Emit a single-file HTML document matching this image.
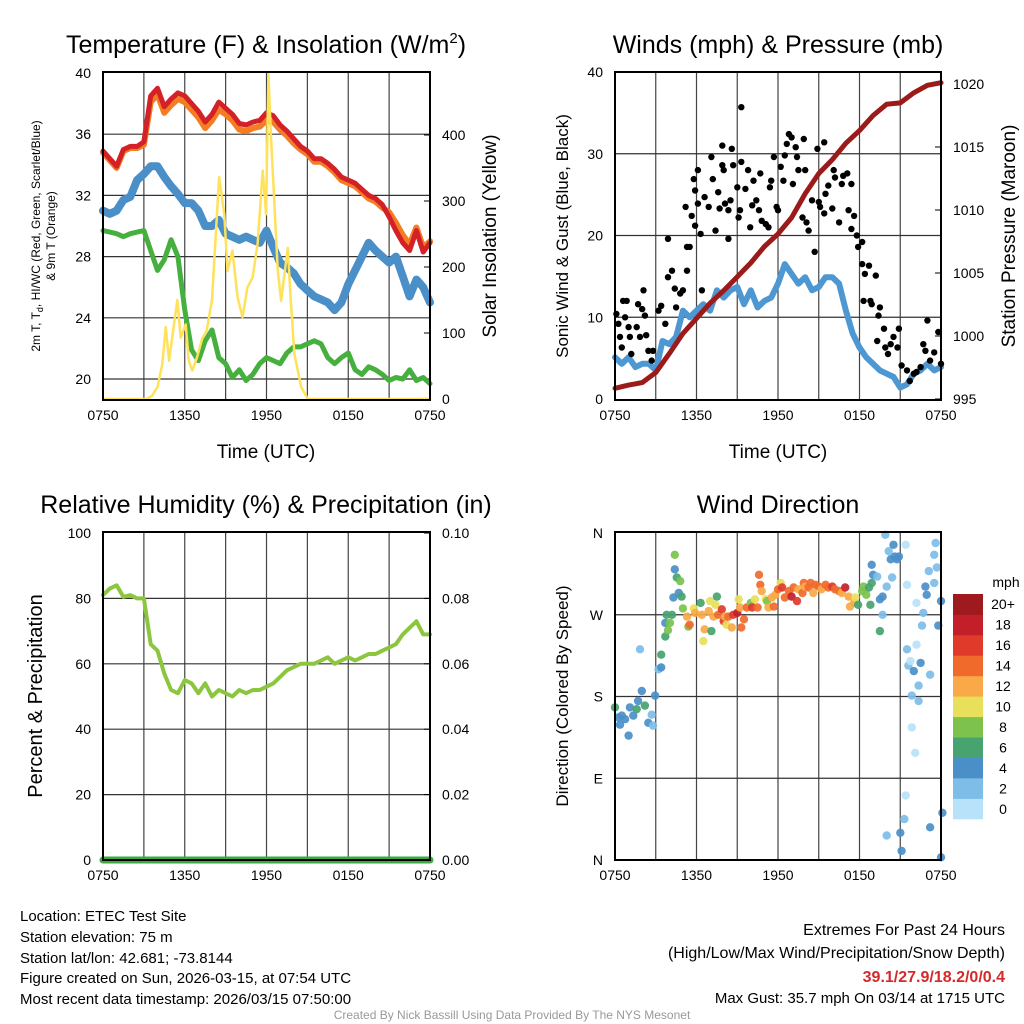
<!DOCTYPE html>
<html><head><meta charset="utf-8">
<style>
html,body{margin:0;padding:0;background:#fff;}
svg{display:block;font-family:"Liberation Sans",Arial,sans-serif;}
</style></head>
<body>
<svg id="chart" width="1024" height="1024" viewBox="0 0 1024 1024" xmlns="http://www.w3.org/2000/svg">
<rect x="0" y="0" width="1024" height="1024" fill="#fff"/>
<g id="layer"></g>
<g font-size="15" fill="#000">
<text x="20" y="921">Location: ETEC Test Site</text>
<text x="20" y="942">Station elevation: 75 m</text>
<text x="20" y="963">Station lat/lon: 42.681; -73.8144</text>
<text x="20" y="983">Figure created on Sun, 2026-03-15, at 07:54 UTC</text>
<text x="20" y="1004">Most recent data timestamp: 2026/03/15 07:50:00</text>
</g>
<g font-size="15" fill="#000" text-anchor="end">
<text x="1005" y="935" font-size="16">Extremes For Past 24 Hours</text>
<text x="1005" y="958" font-size="16">(High/Low/Max Wind/Precipitation/Snow Depth)</text>
<text x="1005" y="982" font-size="16" font-weight="bold" fill="#d42a2a">39.1/27.9/18.2/0/0.4</text>
<text x="1005" y="1003">Max Gust: 35.7 mph On 03/14 at 1715 UTC</text>
</g>
<text x="512" y="1019" text-anchor="middle" font-size="12" fill="#999">Created By Nick Bassill Using Data Provided By The NYS Mesonet</text>
</svg>
<script>
// ---------- data ----------
const halfHours = [0,0.5,1,1.5,2,2.5,3,3.5,4,4.5,5,5.5,6,6.5,7,7.5,8,8.5,9,9.5,10,10.5,11,11.5,12,12.5,13,13.5,14,14.5,15,15.5,16,16.5,17,17.5,18,18.5,19,19.5,20,20.5,21,21.5,22,22.5,23,23.5,24];
const hours = [0,1,2,3,4,5,6,7,8,9,10,11,12,13,14,15,16,17,18,19,20,21,22,23,24];
const xTickLabels = ["0750","1350","1950","0150","0750"];
const xTickHours = [0,6,12,18,24];

const tempRed = [34.9,34.4,33.9,35.0,35.2,35.2,35.5,38.5,39.0,37.8,38.3,38.7,38.5,38.0,37.5,36.8,37.3,38.1,37.7,37.3,36.7,36.6,36.8,36.9,37.4,37.2,36.6,36.2,35.7,35.2,34.9,34.4,34.4,34.1,33.7,33.2,33.0,32.8,32.4,32.0,31.8,31.4,30.6,29.7,28.9,28.4,29.7,28.3,28.9];
const temp9mOrange = [34.8,34.3,33.8,34.9,35.1,35.1,35.3,38.1,38.6,37.4,37.9,38.3,38.1,37.6,37.1,36.4,36.9,37.6,37.3,36.9,36.3,36.2,36.4,36.5,36.9,36.8,36.3,35.9,35.4,35.0,34.7,34.2,34.2,33.9,33.5,33.0,32.8,32.6,32.2,31.8,31.6,31.2,30.9,30.2,29.4,28.8,29.9,28.6,29.0];
const windChillBlue = [31.0,30.8,31.0,31.7,31.9,33.0,33.4,33.9,33.9,33.2,32.6,32.1,31.5,31.5,31.0,30.0,30.0,30.4,29.5,29.3,29.1,29.3,29.1,28.9,29.7,28.6,27.6,27.3,26.9,26.2,25.8,25.4,25.2,25.0,24.5,25.0,26.2,27.1,28.0,28.9,28.4,28.0,27.6,28.0,26.7,25.4,26.5,26.0,25.0];
const dewGreen = [29.7,29.6,29.5,29.3,29.5,29.6,29.7,28.4,27.1,27.8,29.1,28.0,24.5,21.9,21.2,22.5,23.2,21.4,21.0,20.1,20.6,19.9,20.3,21.0,21.4,21.2,21.0,21.7,22.1,22.1,22.3,22.5,22.3,21.4,21.0,21.4,21.7,20.6,20.3,20.8,20.6,20.3,19.9,20.1,20.0,20.6,19.9,20.1,19.7];
const solarHours = [0,3.2,3.6,4.0,4.35,4.6,4.85,5.45,5.7,6.07,6.3,6.55,6.9,7.3,7.6,8.0,8.52,8.9,9.14,9.5,9.88,10.24,10.6,10.98,11.35,11.72,11.97,12.14,12.33,12.58,12.83,13.07,13.56,13.8,14.05,14.55,15.04,24];
const solarValues = [0,0,5,18,53,109,58,150,93,113,58,43,63,93,103,150,336,280,194,225,154,124,169,184,235,346,280,492,397,296,194,149,229,144,68,18,0,0];
const tempTicks = [20,24,28,32,36,40];
const solarTicks = [0,100,200,300,400];

const pressure = [995.85,996.1,996.3,997.1,998.6,1000.2,1001.4,1002.6,1003.6,1004.7,1005.8,1007.1,1008.1,1009.4,1011.3,1012.9,1014.0,1015.3,1016.3,1017.5,1018.4,1018.5,1019.3,1019.9,1020.1];
const sonicWind = [5.1,4.3,5.1,3.9,4.3,4.3,3.5,7.1,6.7,7.6,10.8,10.0,10.8,11.6,10.8,13.3,12.4,13.3,13.7,11.6,13.3,11.2,12.0,12.4,14.1,16.5,15.3,14.1,14.9,13.3,13.7,14.9,14.9,14.1,10.8,8.0,6.3,5.1,4.3,3.5,3.1,2.7,1.4,1.8,3.1,3.5,4.3,3.5,3.9];
const gustHours = [0.1,0.25,0.37,0.5,0.6,0.86,0.74,1.0,1.1,1.2,1.6,1.7,2.0,2.1,2.2,1.84,2.3,2.46,2.7,2.8,3.2,3.4,3.7,3.9,3.9,4.2,4.4,4.5,4.8,5.0,5.2,5.3,5.5,5.3,5.65,5.8,5.9,5.9,6.1,6.1,6.3,6.4,6.6,6.9,7.1,7.2,7.4,7.6,7.7,7.9,7.9,8.0,8.1,8.35,8.5,8.35,8.6,8.7,9.0,9.1,9.2,9.3,9.3,9.6,9.8,9.95,10.1,10.2,10.4,10.6,10.7,10.8,11.1,11.3,11.4,11.5,11.7,11.9,12.0,12.2,12.4,12.5,12.65,12.8,13.0,13.1,13.3,13.4,13.5,13.8,13.9,14.0,14.1,14.25,14.5,14.7,14.9,15.0,15.1,15.4,15.4,15.5,15.7,16.0,16.1,16.2,16.5,16.7,16.8,17.1,17.2,17.4,17.4,17.6,17.8,17.9,18.2,18.2,18.4,18.7,18.3,18.8,18.9,19.2,19.3,19.4,19.5,19.8,19.9,20.1,20.3,20.5,20.8,20.9,21.1,21.5,21.7,22.0,22.2,22.5,22.7,23.0,23.2,23.5,23.8,24.0,22.85];
const gustValues = [10.4,9.2,7.6,6.3,12.0,12.0,10.0,8.8,7.6,5.5,8.8,11.6,11.0,13.3,10.2,7.6,7.8,5.9,4.7,5.9,10.8,11.4,9.2,19.6,14.9,15.7,13.5,11.2,12.9,13.3,23.5,18.6,18.6,15.7,22.4,26.9,25.5,21.2,28.0,23.9,20.2,13.3,24.7,23.5,29.6,26.9,20.6,25.3,23.3,28.6,31.0,28.0,23.9,23.1,24.3,19.6,30.6,28.6,25.9,22.2,23.1,35.7,29.0,25.7,28.0,21.0,23.7,26.7,24.3,23.1,27.6,21.8,21.4,21.0,25.9,26.7,29.6,23.5,23.1,28.4,26.7,29.8,31.2,32.4,32.0,26.3,30.8,29.6,28.0,22.2,31.8,28.0,21.6,20.6,24.3,18.0,30.6,24.1,23.5,31.4,22.7,25.1,26.1,23.3,28.0,27.1,21.6,26.3,27.3,27.6,23.1,26.3,20.8,22.4,20.0,18.6,19.2,16.5,15.3,16.3,12.0,12.0,11.6,15.1,7.1,10.2,11.2,8.6,6.3,5.5,6.7,7.6,6.3,8.6,4.1,3.5,2.2,3.1,3.3,3.9,6.7,9.6,4.7,5.7,8.2,4.3,5.9];
const windTicks = [0,10,20,30,40];
const pressureTicks = [995,1000,1005,1010,1015,1020];

const relHumidity = [81,83,84,80.5,81,80,80,66,64,57,52,51,55,54,51,54,50,52,51,50,52,51,52,52,53,54,56,58,59,60,60,60,61,62,60,61,62,61,62,63,63,64,65,66,69,71,73,69,69];
const precip = [0,0,0,0,0,0,0,0,0,0,0,0,0,0,0,0,0,0,0,0,0,0,0,0,0];
const rhTicks = [0,20,40,60,80,100];
const precipTickLabels = ["0.00","0.02","0.04","0.06","0.08","0.10"];

const dirHours = [0,0.25,0.5,0.37,0.74,1.0,1.1,1.35,1.6,1.7,1.84,1.97,2.2,2.45,2.7,2.8,2.95,3.2,3.4,3.4,3.7,3.7,3.8,3.9,4.05,4.2,4.3,4.4,4.4,4.55,4.8,4.7,4.9,5.0,5.3,5.4,5.5,5.8,5.9,6.3,6.4,6.5,6.6,6.9,7.0,7.1,7.25,7.4,7.5,7.6,7.86,8.0,8.1,8.2,8.35,8.6,8.7,9.0,9.1,9.2,9.3,9.5,9.7,10.0,10.1,10.3,10.5,10.6,10.7,10.8,11.1,11.2,11.3,11.55,11.7,11.8,12.0,12.2,12.3,12.5,12.8,13.0,13.15,13.4,13.5,13.8,13.9,14.0,14.25,14.4,14.6,14.75,15.0,15.2,15.5,15.7,16.0,16.2,16.5,16.7,16.95,17.2,17.3,17.6,17.7,17.9,18.2,18.3,18.5,18.8,18.7,18.9,18.9,19.0,19.3,19.5,19.7,19.5,19.7,19.9,20.0,20.15,20.4,20.3,20.5,20.6,20.9,20.75,21.4,21.5,21.5,21.6,21.75,21.85,21.85,22.0,22.1,22.2,22.2,22.35,22.35,22.5,22.6,22.7,22.85,22.95,23.1,23.2,23.2,23.5,23.5,23.6,23.7,23.8,24.0,24.1,24.0,21.4,21.3,21.0,21.1,20.0];
const dirDegrees = [168,157,159,149,155,137,168,159,166,175,232,186,170,151,160,148,181,210,212,226,246,261,270,253,261,270,289,336,320,311,307,294,290,277,268,257,259,277,272,283,270,241,254,274,285,252,268,281,290,270,276,263,268,259,268,256,270,272,287,278,256,265,278,283,278,287,278,314,303,296,287,285,278,289,279,292,298,305,300,289,296,290,300,285,298,294,305,301,300,305,294,303,301,298,303,300,301,298,296,294,300,290,279,283,289,281,296,301,292,281,300,305,325,314,312,287,270,252,290,358,301,340,311,331,347,334,334,331,347,303,232,214,219,181,146,208,118,237,283,192,175,217,258,272,301,292,318,204,36,305,336,349,322,258,285,52,3,71,45,30,10,27];
const dirSpeeds = [6,4,4,4,4,4,4,4,6,4,2,4,6,4,2,2,4,2,4,6,6,4,6,8,8,6,4,8,4,6,8,4,6,8,12,8,14,10,12,6,12,10,12,12,10,6,12,10,6,14,16,16,12,10,14,12,16,18,10,12,14,14,14,8,16,10,14,14,14,12,10,8,12,12,14,12,14,10,16,14,14,18,14,16,12,14,14,12,14,14,12,14,14,12,14,14,16,14,14,12,18,12,12,12,10,6,8,8,8,6,6,6,4,4,2,4,2,6,4,2,2,2,2,4,4,4,4,4,0,0,2,2,0,2,0,4,0,0,0,2,2,4,2,2,4,4,2,2,4,2,2,2,2,4,4,4,4,0,2,4,4,2];
const speedLabels = ["0","2","4","6","8","10","12","14","16","18","20+"];
const speedColors = ["#b8e2fa","#7dbde8","#4a8fc8","#47a36f","#7cc24d","#e8df5a","#f9a947","#f06a2c","#e03a2b","#c21f2b","#9e1a1f"];
const dirTickLabels = ["N","E","S","W","N"];
const dirTicks = [0,90,180,270,360];

// ---------- helpers ----------
const NS = "http://www.w3.org/2000/svg";
const layer = document.getElementById('layer');
function mk(tag, attrs, parent) {
  const el = document.createElementNS(NS, tag);
  for (const k in attrs) el.setAttribute(k, attrs[k]);
  (parent || layer).appendChild(el);
  return el;
}
function lin(d0, d1, r0, r1) { return v => r0 + (v - d0) * (r1 - r0) / (d1 - d0); }
function pts(xs, ys, fx, fy) { return xs.map((h, i) => fx(h).toFixed(1) + ',' + fy(ys[i]).toFixed(1)).join(' '); }

const panels = [
  {id:'temperature', x0:103, x1:430, y0:72, y1:400, title:'Temperature (F) & Insolation (W/m', cx:266},
  {id:'winds', x0:615, x1:941, y0:72, y1:400, title:'Winds (mph) & Pressure (mb)', cx:778},
  {id:'humidity', x0:103, x1:430, y0:532, y1:860, title:'Relative Humidity (%) & Precipitation (in)', cx:266},
  {id:'direction', x0:615, x1:941, y0:532, y1:860, title:'Wind Direction', cx:778}
];

function drawPanel(p, leftTicks, fyL, leftLabels, rightTicks, fyR, rightLabels, showTime) {
  const g = mk('g', {});
  
  
  p.g = g;
  const fx = lin(0, 24, p.x0, p.x1);
  p.fx = fx;
  for (let h = 3; h < 24; h += 3) {
    const l = mk('line', {x1:fx(h), x2:fx(h), y1:p.y0, y2:p.y1, stroke:'#444', 'stroke-width':1.2}, g);
    
    
  }
  leftTicks.forEach((v, i) => {
    const y = fyL(v);
    if (y > p.y0 + 2 && y < p.y1 - 2) {
      const l = mk('line', {x1:p.x0, x2:p.x1, y1:y, y2:y, stroke:'#333', 'stroke-width':1.2}, g);
      
      
    }
    const t = mk('text', {x:p.x0 - 12, y:y + 5, 'text-anchor':'end', 'font-size':14}, g);
    t.textContent = leftLabels[i];
    
    
  });
  if (rightTicks) rightTicks.forEach((v, i) => {
    const y = fyR(v);
    const tk = mk('line', {x1:p.x1, x2:p.x1 - 6, y1:y, y2:y, stroke:'#000', 'stroke-width':1}, g);
    
    
    const t = mk('text', {x:p.x1 + 12, y:y + 5, 'text-anchor':'start', 'font-size':14}, g);
    t.textContent = rightLabels[i];
    
    
  });
  xTickHours.forEach((h, i) => {
    const t = mk('text', {x:fx(h), y:p.y1 + 20, 'text-anchor':'middle', 'font-size':14}, g);
    t.textContent = xTickLabels[i];
    
    
  });
  if (showTime) {
    const t = mk('text', {x:p.cx, y:p.y1 + 58, 'text-anchor':'middle', 'font-size':19}, g);
    t.textContent = 'Time (UTC)';
    
    
  }
  const tt = mk('text', {x:p.cx, y:p.y0 - 19, 'text-anchor':'middle', 'font-size':25}, g);
  tt.textContent = p.title;
  
  
  if (p.id === 'temperature') {
    const sup = mk('tspan', {'font-size':15, dy:-10}, tt);
    sup.textContent = '2';
    const cl = mk('tspan', {dy:10}, tt);
    cl.textContent = ')';
  }
  p.plotG = mk('g', {}, g);
  
  
}
function frame(p) {
  const r = mk('rect', {x:p.x0, y:p.y0, width:p.x1 - p.x0, height:p.y1 - p.y0, fill:'none', stroke:'#000', 'stroke-width':2}, p.g);
  
  
}
function line(p, xs, ys, fy, color, w, name) {
  const l = mk('polyline', {points:pts(xs, ys, p.fx, fy), fill:'none', stroke:color, 'stroke-width':w, 'stroke-linejoin':'round', 'stroke-linecap':'round'}, p.plotG);
  
  
  return l;
}
function rotText(x, y, txt, size, name) {
  const t = mk('text', {x:x, y:y, 'text-anchor':'middle', 'font-size':size, transform:'rotate(-90 ' + x + ' ' + y + ')'});
  t.textContent = txt;
  
  
  return t;
}

// ---------- Panel 1 ----------
const p1 = panels[0];
const fyT = lin(20, 40, 379, 73);
const fyS = lin(0, 400, 399, 135);
drawPanel(p1, tempTicks, fyT, tempTicks.map(String), solarTicks, fyS, solarTicks.map(String), true);
line(p1, halfHours, windChillBlue, fyT, '#4a8fc8', 8, 'windchill-blue-line');
line(p1, halfHours, dewGreen, fyT, '#46b03f', 5, 'dewpoint-green-line');
line(p1, halfHours, temp9mOrange, fyT, '#f47c22', 6, 'temp-9m-orange-line');
line(p1, halfHours, tempRed, fyT, '#d42027', 5, 'temp-2m-red-line');
line(p1, solarHours, solarValues, fyS, '#fde25a', 2.5, 'solar-insolation-yellow-line');
frame(p1);
const yt1 = rotText(40, 236, '2m T, T', 12, 'temp-y-axis-title-line1');
const sub = mk('tspan', {'font-size':9, dy:3}, yt1);
sub.textContent = 'd';
const rest = mk('tspan', {dy:-3}, yt1);
rest.textContent = ', HI/WC (Red, Green, Scarlet/Blue)';
rotText(55, 236, '& 9m T (Orange)', 12, 'temp-y-axis-title-line2');
rotText(496, 236, 'Solar Insolation (Yellow)', 19, 'solar-y-axis-title');

// ---------- Panel 2 ----------
const p2 = panels[1];
const fyW = lin(0, 40, 399, 72);
const fyP = lin(995, 1020, 399, 84);
drawPanel(p2, windTicks, fyW, windTicks.map(String), pressureTicks, fyP, pressureTicks.map(String), true);
line(p2, halfHours, sonicWind, fyW, '#4d97d3', 6, 'sonic-wind-blue-line');
gustHours.forEach((h, i) => {
  const c = mk('circle', {cx:p2.fx(h).toFixed(1), cy:fyW(gustValues[i]).toFixed(1), r:3.2, fill:'#000'}, p2.plotG);
  
  
});
line(p2, hours, pressure, fyP, '#9b1b1b', 5, 'pressure-maroon-line');
frame(p2);
rotText(568, 236, 'Sonic Wind & Gust (Blue, Black)', 17, 'wind-y-axis-title');
rotText(1015, 236, 'Station Pressure (Maroon)', 19, 'pressure-y-axis-title');

// ---------- Panel 3 ----------
const p3 = panels[2];
const fyRH = lin(0, 100, 860, 533);
const fyPr = lin(0, 0.1, 860, 533);
drawPanel(p3, rhTicks, fyRH, rhTicks.map(String), [0,0.02,0.04,0.06,0.08,0.1], fyPr, precipTickLabels, false);
line(p3, halfHours, relHumidity, fyRH, '#8cc63f', 4, 'relative-humidity-line');
line(p3, hours, precip, fyPr, '#3daa3f', 7, 'precipitation-line');
frame(p3);
rotText(42, 696, 'Percent & Precipitation', 20, 'humidity-y-axis-title');

// ---------- Panel 4 ----------
const p4 = panels[3];
const fyD = lin(0, 360, 860, 533);
drawPanel(p4, dirTicks, fyD, dirTickLabels, null, null, null, false);
dirHours.forEach((h, i) => {
  const idx = Math.min(10, Math.floor(dirSpeeds[i] / 2));
  const c = mk('circle', {cx:p4.fx(h).toFixed(1), cy:fyD(dirDegrees[i]).toFixed(1), r:4.2, fill:speedColors[idx], 'fill-opacity':0.92}, p4.plotG);
  
  
});
frame(p4);
rotText(568, 696, 'Direction (Colored By Speed)', 17, 'direction-y-axis-title');

// colorbar
const cb = mk('g', {});


const cbTop = 594, cbH = 225 / 11;
speedColors.forEach((col, i) => {
  const k = 10 - i;
  const r = mk('rect', {x:953, y:(cbTop + k * cbH).toFixed(1), width:30, height:(cbH + 0.3).toFixed(1), fill:col}, cb);
  
  
  const t = mk('text', {x:1003, y:(cbTop + k * cbH + cbH / 2 + 5).toFixed(1), 'text-anchor':'middle', 'font-size':14}, cb);
  t.textContent = speedLabels[i];
  
  
});
const mph = mk('text', {x:1006, y:587, 'text-anchor':'middle', 'font-size':14}, cb);
mph.textContent = 'mph';


</script>
</body></html>
